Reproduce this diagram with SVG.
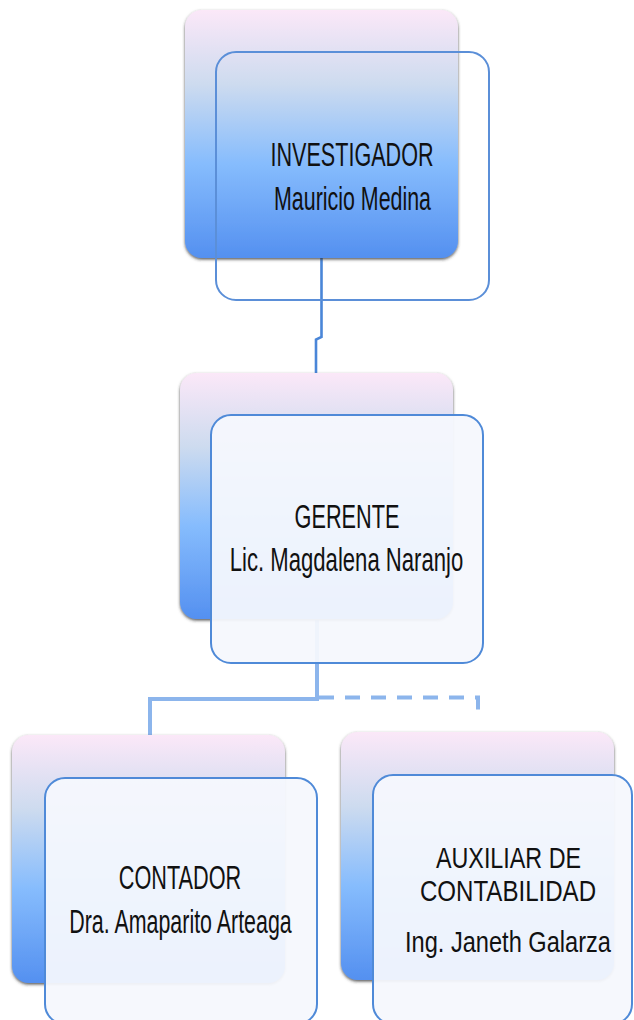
<svg xmlns="http://www.w3.org/2000/svg" width="634" height="1020" viewBox="0 0 634 1020">
  <defs>
    <linearGradient id="backFill" x1="0" y1="0" x2="0" y2="1">
      <stop offset="0" stop-color="#fbe8f8"/>
      <stop offset="0.3" stop-color="#cddbef"/>
      <stop offset="0.62" stop-color="#86bcfd"/>
      <stop offset="1" stop-color="#5490f0"/>
    </linearGradient>
    <filter id="shade" x="-10%" y="-10%" width="120%" height="120%">
      <feDropShadow dx="0" dy="1.5" stdDeviation="1.6" flood-color="#333" flood-opacity="0.8"/>
    </filter>
  </defs>
  <style>
    .back { fill: url(#backFill); filter: url(#shade); }
    .front { fill: #f5f8fd; fill-opacity: 0.94; stroke: #4f8ad8; stroke-width: 2; }
    .outline { fill: none; stroke: #5b8fd8; stroke-width: 2; }
    .link { fill: none; stroke: #4a86d8; stroke-width: 2.6; }
    .link-light { fill: none; stroke: #8cb5ec; stroke-width: 4; }
    .link-dash { fill: none; stroke: #8cb5ec; stroke-width: 4; stroke-dasharray: 15 11; }
    text { font-family: "Liberation Sans", Arial, sans-serif; font-size: 33px; fill: #111; text-anchor: middle; }
    .small { font-size: 30px; }
  </style>

  <rect width="634" height="1020" fill="#ffffff"/>

  <!-- connectors -->
  <g id="connectors">
    <path class="link" d="M321.5 258 V337 L316 339.5 V374"/>
    <path class="link-light" d="M317 620 V699 H150 V736"/>
    <path class="link-dash" d="M319 697.5 H478 V714"/>
  </g>

  <!-- INVESTIGADOR (labels are drawn horizontally condensed) -->
  <g id="node-investigador">
    <rect class="back" x="185" y="10" width="273" height="248" rx="17"/>
    <rect class="outline" x="216" y="52" width="273" height="248" rx="20"/>
    <text transform="matrix(0.654 0 0 1 352 166)">INVESTIGADOR</text>
    <text transform="matrix(0.649 0 0 1 352.5 210)">Mauricio Medina</text>
  </g>

  <!-- GERENTE -->
  <g id="node-gerente">
    <rect class="back" x="180" y="373" width="273" height="246" rx="17"/>
    <rect class="front" x="211" y="415" width="272" height="248" rx="20"/>
    <text transform="matrix(0.658 0 0 1 347 528)">GERENTE</text>
    <text transform="matrix(0.67 0 0 1 346.5 571)">Lic. Magdalena Naranjo</text>
  </g>

  <!-- CONTADOR -->
  <g id="node-contador">
    <rect class="back" x="12" y="735" width="273" height="248" rx="17"/>
    <rect class="front" x="45" y="778" width="272" height="246" rx="20"/>
    <text transform="matrix(0.657 0 0 1 180 889)">CONTADOR</text>
    <text transform="matrix(0.649 0 0 1 180.5 933)">Dra. Amaparito Arteaga</text>
  </g>

  <!-- AUXILIAR DE CONTABILIDAD -->
  <g id="node-auxiliar">
    <rect class="back" x="341" y="732" width="273" height="248" rx="17"/>
    <rect class="front" x="373" y="775" width="259" height="249" rx="20"/>
    <text class="small" transform="matrix(0.777 0 0 1 508.5 868)">AUXILIAR DE</text>
    <text class="small" transform="matrix(0.803 0 0 1 508 901)">CONTABILIDAD</text>
    <text class="small" transform="matrix(0.787 0 0 1 508 952)">Ing. Janeth Galarza</text>
  </g>
</svg>
